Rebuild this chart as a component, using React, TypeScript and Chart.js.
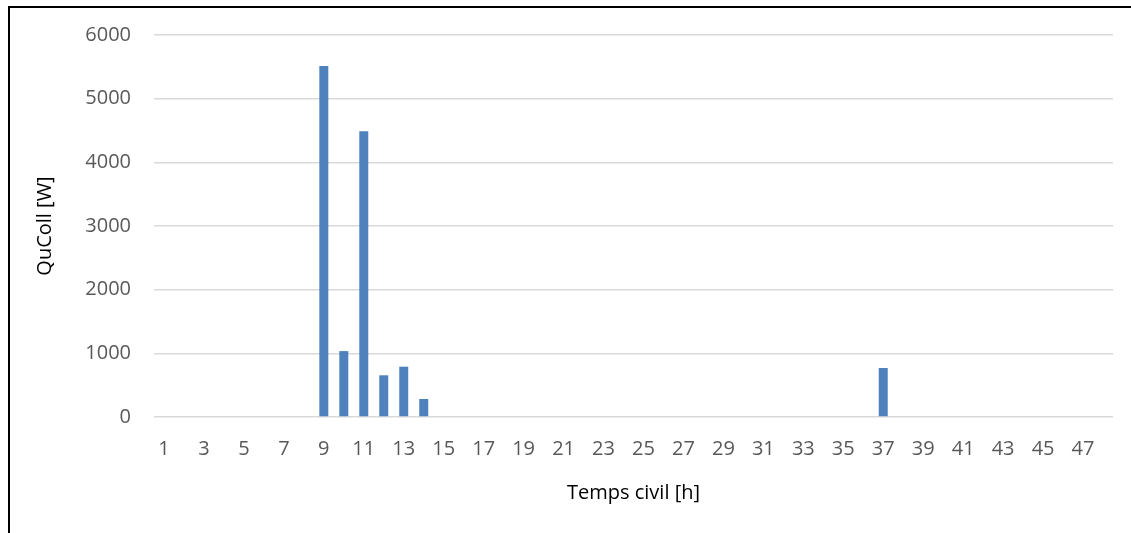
import React, { useEffect, useRef } from "react";
import { Chart, registerables } from "chart.js";

Chart.register(...registerables);

const hours: string[] = [
  "1","2","3","4","5","6","7","8","9","10","11","12","13","14","15","16",
  "17","18","19","20","21","22","23","24","25","26","27","28","29","30","31","32",
  "33","34","35","36","37","38","39","40","41","42","43","44","45","46","47","48",
];
const quColl: number[] = [
  0, 0, 0, 0, 0, 0, 0, 0, 5515, 1035, 4490, 655, 790, 283, 0, 0,
  0, 0, 0, 0, 0, 0, 0, 0, 0, 0, 0, 0, 0, 0, 0, 0,
  0, 0, 0, 0, 770, 0, 0, 0, 0, 0, 0, 0, 0, 0, 0, 0,
];
const yTicks: number[] = [0, 1000, 2000, 3000, 4000, 5000, 6000];

const FONT = "'Open Sans', sans-serif";

export default function App() {
  const ref = useRef<HTMLCanvasElement | null>(null);
  useEffect(() => {
    if (!ref.current) return;
    const chart = new Chart(ref.current, {
      type: "bar",
      data: {
        labels: hours,
        datasets: [
          {
            label: "QuColl",
            data: quColl,
            backgroundColor: "#4f81bd",
            borderWidth: 0,
            barPercentage: 0.45,
            categoryPercentage: 1,
          },
        ],
      },
      options: {
        animation: false,
        responsive: false,
        devicePixelRatio: 1,
        layout: { padding: { top: 27, right: 18, left: 0, bottom: 0 } },
        plugins: { legend: { display: false }, tooltip: { enabled: false } },
        scales: {
          x: {
            type: "category",
            grid: { display: false },
            border: { display: false },
            ticks: {
              autoSkip: false,
              maxRotation: 0,
              minRotation: 0,
              padding: 12,
              color: "#595959",
              font: { family: FONT, size: 20 },
              callback: (_v: any, i: number) => (i % 2 === 0 ? hours[i] : ""),
            },
            title: {
              display: true,
              text: "Temps civil [h]",
              color: "#000000",
              font: { family: FONT, size: 20 },
              padding: { top: 0, bottom: 28 },
            },
            afterFit: (s: any) => {
              s.height = 116;
              s.paddingLeft = 0;
              s.paddingRight = 0;
            },
          },
          y: {
            min: 0,
            max: 6000,
            afterBuildTicks: (s: any) => {
              s.ticks = yTicks.map((v) => ({ value: v }));
            },
            grid: { color: "#d9d9d9", lineWidth: 1.5, drawTicks: false },
            border: { display: false },
            ticks: {
              padding: 23,
              color: "#595959",
              font: { family: FONT, size: 20 },
              callback: (v: any) => String(v),
            },
            title: {
              display: true,
              text: "QuColl [W]",
              color: "#000000",
              font: { family: FONT, size: 20 },
              padding: { top: 23, bottom: 0 },
            },
            afterFit: (s: any) => {
              s.width = 144;
              s.paddingTop = 0;
              s.paddingBottom = 0;
            },
          },
        },
      },
    });
    return () => chart.destroy();
  }, []);

  return (
    <div
      style={{
        position: "fixed",
        left: 8,
        top: 6,
        width: 1121,
        height: 525,
        borderTop: "2px solid #000",
        borderLeft: "2px solid #000",
        background: "#fff",
      }}
    >
      <canvas
        ref={ref}
        width={1121}
        height={525}
        style={{ position: "absolute", left: 0, top: 0, width: 1121, height: 525 }}
      />
    </div>
  );
}
